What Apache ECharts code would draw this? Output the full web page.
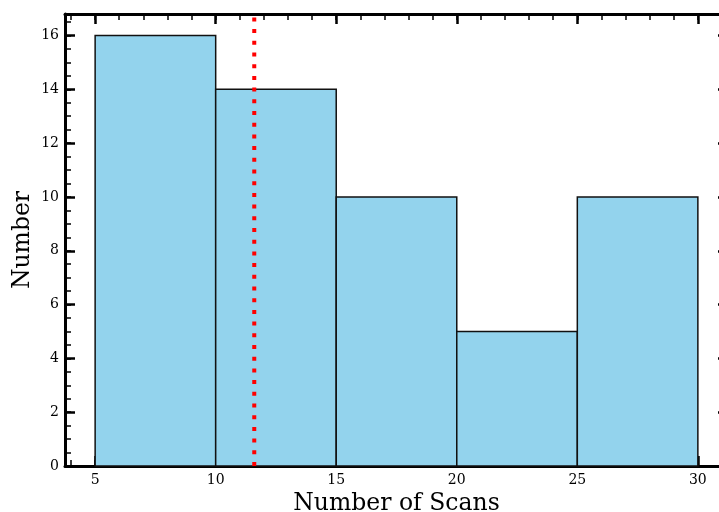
<!DOCTYPE html>
<html>
<head>
<meta charset="utf-8">
<script src="https://cdn.jsdelivr.net/npm/echarts@6/dist/echarts.min.js"></script>
<style>
html, body { margin: 0; padding: 0; background: #fff; }
#chart { width: 719px; height: 512px; }
</style>
</head>
<body>
<div id="chart"></div>
<script>
// histogram data
const binEdges = [5, 10, 15, 20, 25, 30];
const binCounts = [16, 14, 10, 5, 10];
// tick positions
const xTickLabels = [5, 10, 15, 20, 25, 30];
const xMinorTicks = [4, 5, 6, 7, 8, 9, 10, 11, 12, 13, 14, 15, 16, 17, 18, 19, 20, 21, 22, 23, 24, 25, 26, 27, 28, 29, 30, 31];
const yTickLabels = [0, 2, 4, 6, 8, 10, 12, 14, 16];
const yMinorTicks = [0, 0.5, 1, 1.5, 2, 2.5, 3, 3.5, 4, 4.5, 5, 5.5, 6, 6.5, 7, 7.5, 8, 8.5, 9, 9.5, 10, 10.5, 11, 11.5, 12, 12.5, 13, 13.5, 14, 14.5, 15, 15.5, 16, 16.5];
// dotted marker
const markerScans = 11.6;

const X_MIN = 3.75, X_MAX = 31.25, Y_MIN = 0, Y_MAX = 16.8;
const font = 'DejaVu Serif';

const bins = binCounts.map(function (c, i) {
	return [binEdges[i], binEdges[i + 1], c];
});

function axisX(pos, major, labels) {
	return {
		type: 'value',
		position: pos,
		min: X_MIN,
		max: X_MAX,
		name: labels ? 'Number of Scans' : '',
		nameLocation: 'middle',
		nameGap: 26,
		nameMoveOverlap: false,
		nameTextStyle: { fontFamily: font, fontSize: 23.5, color: '#000' },
		axisLine: { show: major, onZero: false, lineStyle: { color: '#000', width: 3 } },
		axisTick: {
			show: true,
			inside: true,
			customValues: major ? xTickLabels : xMinorTicks,
			length: major ? 10 : 6,
			lineStyle: { color: '#000', width: major ? 2.5 : 1.5 }
		},
		axisLabel: {
			show: labels,
			customValues: xTickLabels,
			margin: 7,
			fontFamily: font,
			fontSize: 14,
			color: '#000'
		},
		splitLine: { show: false }
	};
}

function axisY(pos, major, labels) {
	return {
		type: 'value',
		position: pos,
		min: Y_MIN,
		max: Y_MAX,
		name: labels ? 'Number' : '',
		nameLocation: 'middle',
		nameGap: 30,
		nameMoveOverlap: false,
		nameRotate: 90,
		nameTextStyle: { fontFamily: font, fontSize: 23.5, color: '#000' },
		axisLine: { show: major, onZero: false, lineStyle: { color: '#000', width: 3 } },
		axisTick: {
			show: true,
			inside: true,
			customValues: major ? yTickLabels : yMinorTicks,
			length: major ? 10 : 6,
			lineStyle: { color: '#000', width: major ? 2.5 : 1.5 }
		},
		axisLabel: {
			show: labels,
			customValues: yTickLabels,
			margin: 6,
			fontFamily: font,
			fontSize: 14,
			color: '#000'
		},
		splitLine: { show: false }
	};
}

const chart = echarts.init(document.getElementById('chart'));

const option = {
	backgroundColor: '#fff',
	animation: false,
	grid: { left: 65, right: -9, top: 14, bottom: 46, containLabel: false, outerBoundsMode: 'none' },
	xAxis: [
		axisX('bottom', true, true),
		axisX('bottom', false, false),
		axisX('top', true, false),
		axisX('top', false, false)
	],
	yAxis: [
		axisY('left', true, true),
		axisY('left', false, false),
		axisY('right', true, false),
		axisY('right', false, false)
	],
	series: [
		{
			type: 'custom',
			xAxisIndex: 0,
			yAxisIndex: 0,
			data: bins,
			renderItem: function (params, api) {
				const p0 = api.coord([api.value(0), api.value(2)]);
				const p1 = api.coord([api.value(1), 0]);
				return {
					type: 'rect',
					shape: { x: p0[0], y: p0[1], width: p1[0] - p0[0], height: p1[1] - p0[1] },
					style: { fill: '#93d3ed', stroke: '#111', lineWidth: 1.5 }
				};
			},
			z: 2
		},
		{
			type: 'line',
			xAxisIndex: 0,
			yAxisIndex: 0,
			data: [[markerScans, Y_MIN], [markerScans, Y_MAX]],
			symbol: 'none',
			lineStyle: { color: '#ff0000', width: 4, type: [4, 7.7], cap: 'butt' },
			z: 3
		}
	]
};

chart.setOption(option);
window.onresize = chart.resize;
</script>
</body>
</html>
